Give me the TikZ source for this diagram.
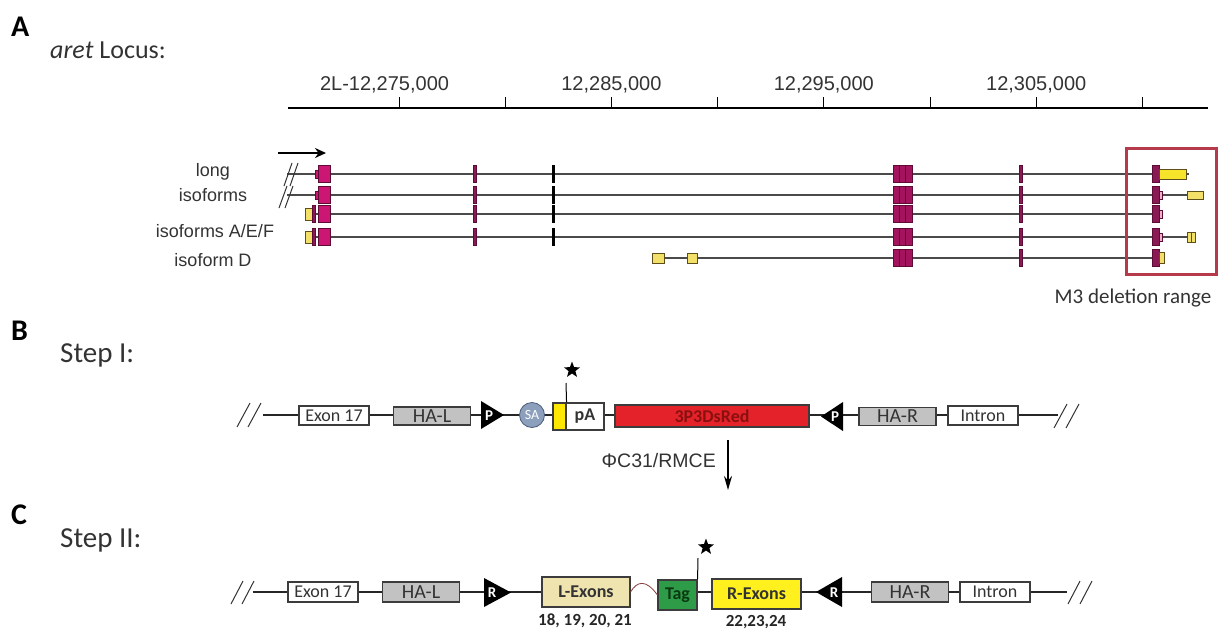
\documentclass[tikz,border=0pt]{standalone}
\usepackage{fontspec}
\setmainfont{Carlito}
\newfontfamily\arialf{Liberation Sans}
\usetikzlibrary{arrows.meta,shapes.geometric}
\pgfdeclarelayer{bg}
\pgfsetlayers{bg,main}
\definecolor{mag}{HTML}{CC1674}
\definecolor{magdk}{HTML}{5E0C36}
\definecolor{purp}{HTML}{8A1A55}
\definecolor{grp}{HTML}{A3135E}
\definecolor{utr}{HTML}{F2E068}
\definecolor{utrdk}{HTML}{5E4E1A}
\definecolor{yel3}{HTML}{F5E42A}
\definecolor{pinkl}{HTML}{E9B3C6}
\definecolor{m3red}{HTML}{B53A4B}
\definecolor{boxline}{HTML}{3C3C3C}
\definecolor{hagray}{HTML}{C2C2C2}
\definecolor{dsred}{HTML}{E4222A}
\definecolor{dsredtxt}{HTML}{8A1010}
\definecolor{sablue}{HTML}{8C9FBC}
\definecolor{sadark}{HTML}{4A5A78}
\definecolor{lexfill}{HTML}{EFE3AF}
\definecolor{tagfill}{HTML}{2E9B48}
\definecolor{tagtxt}{HTML}{0B3A12}
\definecolor{rexfill}{HTML}{FFF01E}
\definecolor{trackln}{HTML}{4A4A4A}
\definecolor{txt}{HTML}{333333}
\definecolor{wavy}{HTML}{8B3A3A}
\newcommand\fs[1]{\fontsize{#1}{#1}\selectfont}
\newcommand\exr[5]{\filldraw[fill=#5,draw=magdk,line width=0.8pt] (#1,{#3-#4}) rectangle (#2,{#3+#4});}
\begin{document}
\begin{tikzpicture}[x=1pt,y=-1pt,
  track/.style={draw=trackln,line width=1.3pt},
  backbone/.style={draw=black!85,line width=1.2pt},
  blk/.style={draw=boxline,line width=1.1pt,inner sep=0pt,font=\fs{18},text=txt},
  hab/.style={blk,fill=hagray,font=\fs{20},minimum width=77,minimum height=18},
  wbox/.style={blk,fill=white,minimum width=70,minimum height=19},
  brk/.style={draw=black!80,line width=1pt},
  trilbl/.style={text=white,font=\bfseries\fs{15},inner sep=0pt},
  panel/.style={font=\bfseries\fs{30},anchor=base west,inner sep=0pt},
  steplbl/.style={font=\fs{29},anchor=base west,inner sep=0pt,text=txt},
  rulelbl/.style={font=\arialf\fs{20},anchor=base,inner sep=0pt,text=txt},
  isolbl/.style={font=\arialf\fs{18},inner sep=0pt,text=txt},
  numlbl/.style={font=\bfseries\fs{17},inner sep=0pt,text=black!85},
  starn/.style={star,star points=5,star point ratio=2.4,fill=black,minimum size=17,inner sep=0pt},
]
\path[use as bounding box] (0,0) rectangle (1218,633);

% ---------------- Panel A ----------------
\node[panel] (lA) at (11,36) {A};
\node[steplbl,font=\fs{26}] (locus) at (50,58) {\textit{aret} Locus:};

% ruler
\coordinate (r0) at (288,108);
\coordinate (r1) at (1208,108);
\draw[line width=2.2pt] (r0) -- (r1);
\foreach \k in {0,...,7}{
  \draw[line width=1pt] ({399+106.2*\k},108) -- ({399+106.2*\k},97);
}
\node[rulelbl] (rl1) at (399,90) {\llap{2L-}12,275,000};
\node[rulelbl] (rl2) at (611.4,90) {12,285,000};
\node[rulelbl] (rl3) at (823.8,90) {12,295,000};
\node[rulelbl] (rl4) at (1036.2,90) {12,305,000};

% direction arrow
\coordinate (da0) at (278,153);
\coordinate (da1) at (326,153);
\draw[line width=2pt,-{Stealth[length=11pt,width=10pt]}] (da0) -- (da1);

% isoform labels
\node[isolbl] (il1) at (213,172) {long};
\node[isolbl] (il2) at (213,195) {isoforms};
\node[isolbl] (il3) at (215,231) {isoforms A/E/F};
\node[isolbl] (il4) at (213,260) {isoform D};

% track lines
\draw[track] (287,174) -- (1189,174);
\draw[track] (287,195) -- (1187,195);
\draw[track] (305,214) -- (1162,214);
\draw[track] (305,237) -- (1187,237);
\draw[track] (652,258) -- (1158,258);

% breaks
\draw[brk] (284,186) -- (292,163);
\draw[brk] (290,186) -- (298,163);
\draw[brk] (279,208) -- (287,186);
\draw[brk] (285,208) -- (293,186);

% first exon region
\foreach \y in {174,195}{
  \exr{315}{318}{\y}{4}{mag}
  \exr{318}{330}{\y}{8.5}{mag}
}
\foreach \y in {214,237}{
  \filldraw[fill=utr,draw=utrdk,line width=0.8pt] (305,{\y-6}) rectangle (312,{\y+6});
  \exr{312}{315}{\y}{8.5}{purp}
  \exr{318}{330}{\y}{8.5}{mag}
}
\foreach \y in {174,195,214,237}{
  \exr{473}{476}{\y}{8.5}{purp}
  \filldraw[fill=black,draw=black,line width=0.5pt] (552.5,{\y-8.5}) rectangle (554.5,{\y+8.5});
}
\foreach \y in {174,195,214,237,258}{
  \exr{893}{912}{\y}{8.5}{grp}
  \draw[magdk,line width=1pt] (899.3,{\y-8.5}) -- (899.3,{\y+8.5});
  \draw[magdk,line width=1pt] (905.6,{\y-8.5}) -- (905.6,{\y+8.5});
  \exr{1019}{1022}{\y}{8.5}{purp}
  \exr{1152}{1159}{\y}{8.5}{purp}
}
% last exon details
\filldraw[fill=yel3,draw=utrdk,line width=0.8pt] (1159,169) rectangle (1186,179);
\filldraw[fill=pinkl,draw=magdk,line width=0.7pt] (1159,191) rectangle (1162,199);
\filldraw[fill=utr,draw=utrdk,line width=0.8pt] (1187,191) rectangle (1203,199);
\filldraw[fill=pinkl,draw=magdk,line width=0.7pt] (1159,210) rectangle (1162,218);
\filldraw[fill=pinkl,draw=magdk,line width=0.7pt] (1159,233) rectangle (1162,241);
\filldraw[fill=utr,draw=utrdk,line width=0.8pt] (1187,232) rectangle (1195,242);
\draw[utrdk,line width=0.7pt] (1191,232) -- (1191,242);
% isoform D
\filldraw[fill=utr,draw=utrdk,line width=0.8pt] (652,253) rectangle (664,263);
\filldraw[fill=utr,draw=utrdk,line width=0.8pt] (687,253) rectangle (697,263);
\filldraw[fill=utr,draw=utrdk,line width=0.8pt] (1159,252) rectangle (1164,263);

% M3 box
\draw[m3red,line width=3pt] (1126,148) rectangle (1216,274);
\node[font=\fs{21},anchor=base,inner sep=0pt,text=txt] (m3) at (1133,303) {M3 deletion range};

% ---------------- Panel B ----------------
\node[panel] (lB) at (11,340) {B};
\node[steplbl] (s1) at (60,362) {Step I:};

\node[wbox] (ex17B) at (334,415.5) {Exon 17};
\node[hab] (halB) at (432,416) {HA-L};
\fill (481,401) -- (504,415) -- (481,429) -- cycle;
\node[trilbl] (p1) at (489,415.5) {P};
\node[circle,draw=sadark,fill=sablue,line width=0.8pt,minimum size=25,inner sep=0pt,font=\fs{14},text=white] (sa) at (532,415) {SA};
\node[blk,fill=yellow!90!orange,minimum width=13,minimum height=27] (yelB) at (559.5,416.5) {};
\node[blk,fill=white,minimum width=38,minimum height=27,font=\bfseries\fs{18}] (pA) at (585,416.5) {pA};
\node[blk,fill=dsred,minimum width=194,minimum height=22,font=\bfseries\fs{18},text=dsredtxt] (ds) at (712,416) {3P3DsRed};
\fill (843,402) -- (821,416.5) -- (843,431) -- cycle;
\node[trilbl] (p2) at (835,416.5) {P};
\node[hab] (harB) at (897.5,416.5) {HA-R};
\node[wbox] (inB) at (983,415.5) {Intron};
\coordinate (bs) at (263,415);
\coordinate (be) at (1058,415);
\begin{pgfonlayer}{bg}
\draw[backbone] (bs) -- (be);
\end{pgfonlayer}
\draw[brk] (237,427) -- (250,403);
\draw[brk] (248,427) -- (261,403);
\draw[brk] (1054,428) -- (1067,404);
\draw[brk] (1066,428) -- (1079,404);
\coordinate (stB) at (566,383);
\draw[line width=1pt] (yelB.north east) -- (stB);
\node[starn] (starB) at (572,370) {};

% transition arrow
\coordinate (arT) at (728,440);
\coordinate (arB) at (728,490);
\draw[line width=1.8pt,-{Stealth[length=14pt,width=8pt]}] (arT) -- (arB);
\node[font=\arialf\fs{19.5},anchor=east,inner sep=0pt,text=txt] (phi) at (716,461) {ΦC31/RMCE};

% ---------------- Panel C ----------------
\node[panel] (lC) at (11,524) {C};
\node[steplbl] (s2) at (60,547) {Step II:};

\node[wbox,minimum height=20] (ex17C) at (323,592) {Exon 17};
\node[hab,minimum height=20] (halC) at (421,592) {HA-L};
\fill (484,578) -- (511,592.5) -- (484,607) -- cycle;
\node[trilbl] (r1n) at (492,593) {R};
\node[blk,fill=lexfill,minimum width=88,minimum height=30,font=\bfseries\fs{18}] (lex) at (586,592) {L-Exons};
\node[numlbl] (n1) at (585,621) {18, 19, 20, 21};
\node[blk,fill=tagfill,minimum width=39,minimum height=30,font=\bfseries\fs{18},text=tagtxt] (tag) at (677.5,595) {Tag};
\node[blk,fill=rexfill,minimum width=89,minimum height=30,font=\bfseries\fs{18}] (rex) at (756.5,594) {R-Exons};
\node[numlbl] (n2) at (756,622) {22,23,24};
\fill (842,577) -- (816,592) -- (842,607) -- cycle;
\node[trilbl] (r2n) at (834,592.5) {R};
\node[hab,minimum height=20] (harC) at (910,592) {HA-R};
\node[wbox,minimum height=20] (inC) at (995,592) {Intron};
\coordinate (cs) at (253,592);
\coordinate (ce) at (1067,592);
\begin{pgfonlayer}{bg}
\draw[backbone] (cs) -- (lex.west);
\draw[backbone] (tag.east |- ce) -- (ce);
\end{pgfonlayer}
\draw[wavy,line width=0.8pt] (lex.east) .. controls (637,581) and (646,579) .. (tag.west);
\draw[brk] (231,604) -- (243,581);
\draw[brk] (242,604) -- (254,581);
\draw[brk] (1068,604) -- (1080,581);
\draw[brk] (1080,604) -- (1092,581);
\coordinate (stC) at (698,558);
\draw[line width=1pt] (tag.north east) -- (stC);
\node[starn] (starC) at (706,547) {};
\end{tikzpicture}
\end{document}
